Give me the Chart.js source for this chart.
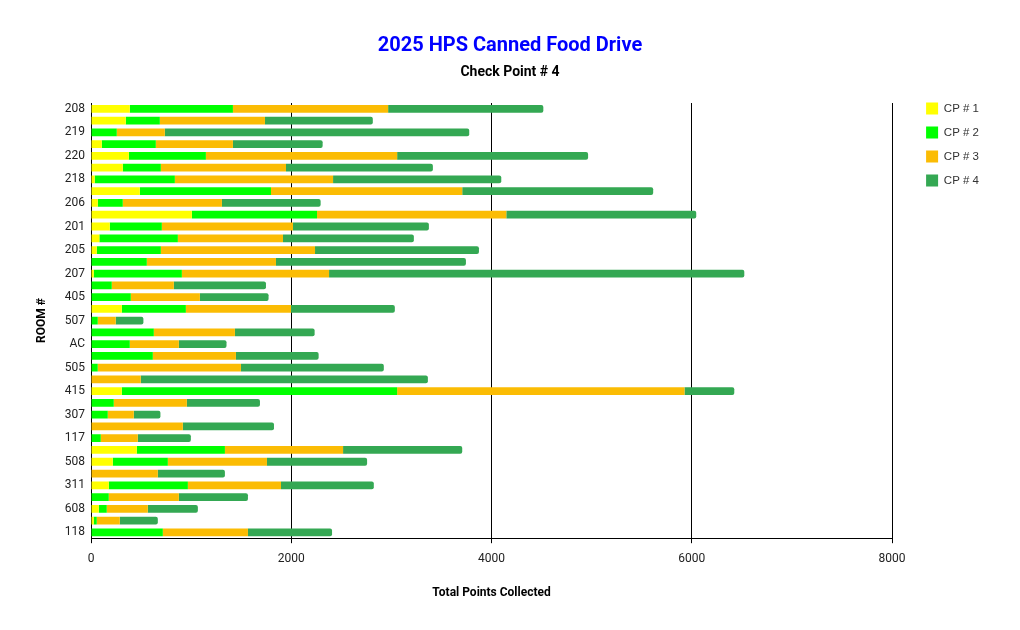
<!DOCTYPE html>
<html>
<head>
<meta charset="utf-8">
<script src="https://cdn.jsdelivr.net/npm/chart.js@4.4.1/dist/chart.umd.min.js"></script>
<style>
html,body{margin:0;padding:0;background:#fff}
#wrap{width:1020px;height:630px}
</style>
</head>
<body>
<div id="wrap"><canvas id="c" width="1020" height="630"></canvas></div>
<script>
// Categories (only every other room label is printed in the original chart)
const rooms = ['208','','219','','220','','218','','206','','201','','205','','207','','405','','507','','AC','','505','','415','','307','','117','','508','','311','','608','','118'];

// Series values (points per checkpoint)
const cp1 = [387,347,0,107,377,317,37,487,67,1007,187,83,57,0,27,0,0,307,0,0,0,0,0,0,307,0,0,0,0,457,217,0,177,0,77,27,0];
const cp2 = [1030,340,257,540,770,380,800,1310,250,1250,520,784,640,557,880,207,397,640,67,627,387,617,67,0,2750,227,167,0,97,880,550,0,790,177,80,30,717];
const cp3 = [1550,1050,480,770,1910,1250,1580,1910,990,1890,1310,1050,1540,1290,1470,620,690,1050,180,810,490,830,1430,497,2870,730,260,917,370,1180,990,667,930,700,410,230,850];
const cp4 = [1550,1077,3040,896,1907,1467,1680,1907,986,1897,1357,1307,1637,1897,4147,920,686,1037,276,796,476,826,1427,2867,497,730,266,910,530,1190,1000,670,927,690,500,380,840];

const seriesNames = ['CP # 1','CP # 2','CP # 3','CP # 4'];
const seriesColors = ['#ffff00','#00ff00','#fbbc04','#34a853'];
const xTickValues = [0,2000,4000,6000,8000];

const layoutTweaks = {
  id: 'layoutTweaks',
  afterLayout(chart) {
    const lg = chart.legend;
    if (lg) {
      const w = lg.width, h = lg.height;
      lg.left = chart.chartArea.right + 22;
      lg.right = lg.left + w;
      lg.top = chart.chartArea.top - 12.5;
      lg.bottom = lg.top + h;
    }
    // centre title and subtitle on the whole canvas
    chart.boxes.forEach(b => {
      if (b.position === 'top' && b.options && typeof b.options.text === 'string') {
        b.left = 0;
        b.right = chart.width;
        b.width = chart.width;
      }
    });
  }
};

const seriesData = [cp1, cp2, cp3, cp4];
const datasets = seriesNames.map((name, i) => ({
  label: name,
  data: seriesData[i],
  backgroundColor: seriesColors[i],
  borderWidth: 0,
  borderRadius: i === 3 ? 2 : 0,
  borderSkipped: 'start',
  barPercentage: 0.66,
  categoryPercentage: 1.0
}));

new Chart(document.getElementById('c'), {
  type: 'bar',
  data: { labels: rooms, datasets },
  plugins: [layoutTweaks],
  options: {
    indexAxis: 'y',
    responsive: false,
    animation: false,
    layout: { padding: { left: 10, right: 53, top: 0, bottom: 20 } },
    plugins: {
      title: {
        display: true,
        text: '2025 HPS Canned Food Drive',
        color: '#0000ff',
        font: { family: 'Roboto', size: 20, weight: 'bold' },
        padding: { top: 34, bottom: 5.6 }
      },
      subtitle: {
        display: true,
        text: 'Check Point # 4',
        color: '#000',
        font: { family: 'Roboto', size: 14, weight: 'bold' },
        padding: { top: 0, bottom: 22.6 }
      },
      legend: {
        position: 'right',
        align: 'start',
        labels: {
          boxWidth: 12,
          boxHeight: 12,
          padding: 12,
          color: '#333',
          font: { family: 'Liberation Sans', size: 11.5 }
        }
      },
      tooltip: { enabled: false }
    },
    scales: {
      x: {
        stacked: true,
        min: 0,
        max: 8000,
        afterBuildTicks(scale) { scale.ticks = xTickValues.map(v => ({ value: v })); },
        grid: { color: '#000', lineWidth: 1, tickLength: 5, tickColor: '#000', drawTicks: true },
        border: { display: true, color: '#000', width: 1 },
        ticks: {
          color: '#222',
          padding: 8.8,
          font: { family: 'Roboto', size: 12 },
          callback: (v) => String(v)
        },
        title: {
          display: true,
          text: 'Total Points Collected',
          color: '#000',
          font: { family: 'Roboto', size: 12, weight: 'bold' },
          padding: { top: 10.6, bottom: 9.8 }
        }
      },
      y: {
        stacked: true,
        grid: { display: false, drawTicks: false },
        border: { display: true, color: '#000', width: 1 },
        ticks: { autoSkip: false, color: '#222', padding: 6, font: { family: 'Roboto', size: 12 } },
        title: {
          display: true,
          text: 'ROOM #',
          color: '#000',
          font: { family: 'Roboto', size: 12, weight: 'bold' },
          padding: { top: 24.8, bottom: 9.6 }
        }
      }
    }
  }
});
</script>
</body>
</html>
